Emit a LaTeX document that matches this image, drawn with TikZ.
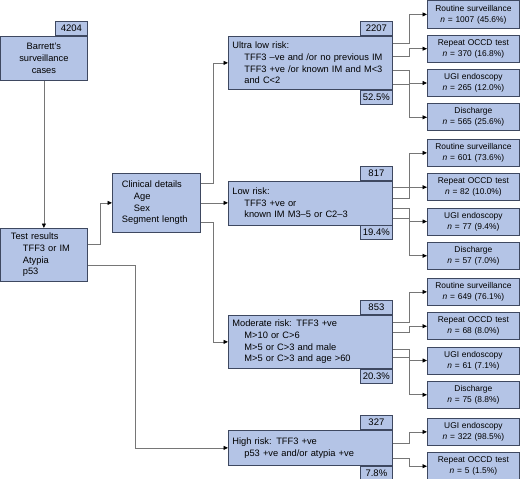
\documentclass[tikz,border=0pt]{standalone}
\usepackage{fontspec}
\setmainfont{Liberation Sans}
\usetikzlibrary{positioning, arrows.meta}

\definecolor{boxfill}{RGB}{180,196,230}
\definecolor{boxline}{RGB}{62,72,96}
\definecolor{linkgray}{RGB}{118,118,118}
\newcommand{\indt}{\hspace*{12pt}}

\begin{document}
\begin{tikzpicture}
[x=1pt, y=-1pt,
 >={Triangle[length=4.5pt,width=4pt,color=black]},
 box/.style={draw=boxline, fill=boxfill, line width=0.8pt, anchor=north west,
   inner xsep=4pt, inner ysep=0pt, align=left,
   font=\fontsize{9.3}{11.7}\selectfont},
 count/.style={draw=boxline, fill=boxfill, line width=0.8pt, inner sep=0pt,
   minimum width=32pt, minimum height=14pt,
   font=\fontsize{9.5}{11.7}\selectfont},
 outcome/.style={draw=boxline, fill=boxfill, line width=0.8pt,
   inner xsep=5pt, inner ysep=0pt, text width=82pt, minimum height=27pt,
   align=center, font=\fontsize{8.4}{11}\selectfont},
 link/.style={draw=linkgray, line width=0.8pt, ->},
]
\useasboundingbox (0,0) rectangle (520,479);

% left column
\node[box, text width=79pt, align=center, minimum height=44pt] (barrett) at (0,36)
  {Barrett's\\surveillance\\cases};
\node[count, anchor=south east] (barrettN) at (barrett.north east) {4204};
\node[box, inner xsep=10.5pt, text width=66pt, minimum height=53pt] (tests) at (0,228)
  {Test results\\\indt TFF3 or IM\\\indt Atypia\\\indt p53};
\node[box, inner xsep=9.5pt, text width=69pt, minimum height=59pt] (clinical) at (112,173)
  {Clinical details\\\indt Age\\\indt Sex\\Segment length};

% risk groups
\node[box, text width=156pt, minimum height=53pt] (ultra) at (228,36)
  {Ultra low risk:\\\indt TFF3 --ve and /or no previous IM\\\indt TFF3 +ve /or known IM and M<3\\\indt and C<2};
\node[count, anchor=south east] (ultraN) at (ultra.north east) {2207};
\node[count, anchor=north east] (ultraP) at (ultra.south east) {52.5\%};

\node[box, text width=156pt, minimum height=44pt] (low) at (228,180.5)
  {Low risk:\\\indt TFF3 +ve or\\\indt known IM M3--5 or C2--3};
\node[count, anchor=south east] (lowN) at (low.north east) {817};
\node[count, anchor=north east] (lowP) at (low.south east) {19.4\%};

\node[box, text width=156pt, minimum height=53pt] (moderate) at (228,315)
  {Moderate risk: TFF3 +ve\\\indt M>10 or C>6\\\indt M>5 or C>3 and male\\\indt M>5 or C>3 and age >60};
\node[count, anchor=south east] (moderateN) at (moderate.north east) {853};
\node[count, anchor=north east] (moderateP) at (moderate.south east) {20.3\%};

\node[box, text width=156pt, minimum height=35pt] (high) at (228,430)
  {High risk: TFF3 +ve\\\indt p53 +ve and/or atypia +ve};
\node[count, anchor=south east] (highN) at (high.north east) {327};
\node[count, anchor=north east] (highP) at (high.south east) {7.8\%};

% outcomes
\node[outcome, anchor=north west] (ultra1) at (427,0.5) {Routine surveillance\\\textit{n} = 1007 (45.6\%)};
\node[outcome, below=6.5pt of ultra1] (ultra2) {Repeat OCCD test\\\textit{n} = 370 (16.8\%)};
\node[outcome, below=6.5pt of ultra2] (ultra3) {UGI endoscopy\\\textit{n} = 265 (12.0\%)};
\node[outcome, below=6.5pt of ultra3] (ultra4) {Discharge\\\textit{n} = 565 (25.6\%)};

\node[outcome, anchor=north west] (low1) at (427,139) {Routine surveillance\\\textit{n} = 601 (73.6\%)};
\node[outcome, below=6.5pt of low1] (low2) {Repeat OCCD test\\\textit{n} = 82 (10.0\%)};
\node[outcome, below=6.5pt of low2] (low3) {UGI endoscopy\\\textit{n} = 77 (9.4\%)};
\node[outcome, below=6.5pt of low3] (low4) {Discharge\\\textit{n} = 57 (7.0\%)};

\node[outcome, anchor=north west] (moderate1) at (427,278) {Routine surveillance\\\textit{n} = 649 (76.1\%)};
\node[outcome, below=6.5pt of moderate1] (moderate2) {Repeat OCCD test\\\textit{n} = 68 (8.0\%)};
\node[outcome, below=6.5pt of moderate2] (moderate3) {UGI endoscopy\\\textit{n} = 61 (7.1\%)};
\node[outcome, below=6.5pt of moderate3] (moderate4) {Discharge\\\textit{n} = 75 (8.8\%)};

\node[outcome, anchor=north west] (high1) at (427,418) {UGI endoscopy\\\textit{n} = 322 (98.5\%)};
\node[outcome, below=6.5pt of high1] (high2) {Repeat OCCD test\\\textit{n} = 5 (1.5\%)};

% connectors
\draw[link] (barrett) -- (tests);
\draw[link] ([yshift=-16pt]tests.north east) -- ++(13,0) |- (clinical.west);
\draw[link] ([yshift=-37pt]tests.north east) -- ++(48,0) |- (high.west);
\draw[link] ([yshift=-10pt]clinical.north east) -- ++(13,0) |- (ultra.west);
\draw[link] (clinical.east) -- (low.west);
\draw[link] ([yshift=10pt]clinical.south east) -- ++(13,0) |- (moderate.west);

\foreach \dy/\dest in {7/ultra1, 20/ultra2, 34/ultra3, 48/ultra4}
  \draw[link] ([yshift=-\dy pt]ultra.north east) -- ++(16.5,0) |- (\dest.west);
\foreach \dy/\dest in {6.5/low1, 17.5/low2, 27.5/low3, 37.5/low4}
  \draw[link] ([yshift=-\dy pt]low.north east) -- ++(16.5,0) |- (\dest.west);
\foreach \dy/\dest in {7/moderate1, 17/moderate2, 34/moderate3, 42/moderate4}
  \draw[link] ([yshift=-\dy pt]moderate.north east) -- ++(16.5,0) |- (\dest.west);
\foreach \dy/\dest in {13/high1, 28/high2}
  \draw[link] ([yshift=-\dy pt]high.north east) -- ++(16.5,0) |- (\dest.west);
\end{tikzpicture}
\end{document}
